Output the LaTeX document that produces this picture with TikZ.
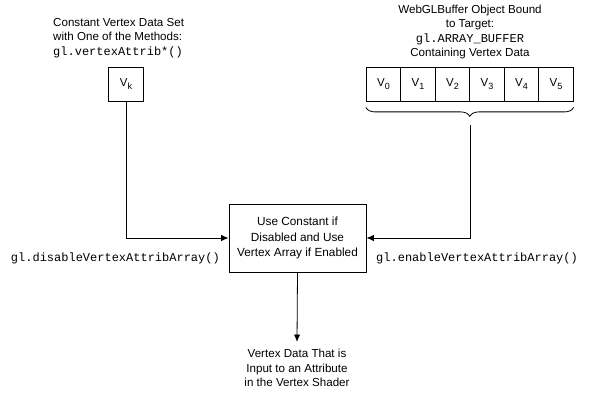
\documentclass[tikz,border=0pt]{standalone}
\usepackage{fontspec}
\setmainfont{Liberation Sans}
\setmonofont{Liberation Mono}
\usepackage{tikz}
\usetikzlibrary{arrows.meta,positioning,calc,decorations.pathreplacing}
\newcommand{\vsub}[1]{V\kern0.3pt\raisebox{-2.6pt}{\fontsize{9}{9}\selectfont #1}}
\tikzset{
  flow/.style={-{Latex[length=2.6mm,width=2.2mm]},line width=0.8pt},
  cell/.style={draw,line width=0.8pt,minimum width=34.5pt,minimum height=34pt,inner sep=0pt,font=\fontsize{11.5}{14}\selectfont},
  box/.style={draw,line width=0.8pt,minimum width=137pt,minimum height=68pt,align=center,font=\fontsize{11.8}{15.5}\selectfont},
  labeltext/.style={inner sep=0pt,align=center,font=\fontsize{11.6}{14.6}\selectfont},
  codetext/.style={inner sep=0pt,font=\fontsize{12}{14}\ttfamily}
}
\begin{document}
\begin{tikzpicture}[x=1pt,y=-1pt]
\useasboundingbox (0,0) rectangle (594,401);
% constant vertex
\node[labeltext,align=left,anchor=west] (constlbl) at (53,38)
  {Constant Vertex Data Set\\with One of the Methods:\\{\fontsize{12}{14}\ttfamily gl.vertexAttrib*()}};
\node[cell] (vk) at (126,84) {\vsub{k}};
% buffer
\node[labeltext] (buflbl) at (470,32)
  {WebGLBuffer Object Bound\\to Target:\\{\fontsize{12}{14}\ttfamily gl.ARRAY\_BUFFER}\\Containing Vertex Data};
\foreach \i in {0,...,5}{
  \node[cell] (v\i) at (383.5+34.5*\i,84) {\vsub{\i}};
}
\draw[line width=0.8pt,decorate,decoration={brace,mirror,amplitude=9pt}]
  ($(v0.south west)+(0,6)$) -- ($(v5.south east)+(0,6)$);
\coordinate (tip) at (470,125);
% selector
\node[box] (use) at (297.5,238) {Use Constant if\\Disabled and Use\\Vertex Array if Enabled};
\node[labeltext] (out) at (297,368) {Vertex Data That is\\Input to an Attribute\\in the Vertex Shader};
\node[codetext,anchor=east] (dis) at (220,258) {gl.disableVertexAttribArray()};
\node[codetext,anchor=west] (ena) at (376,258) {gl.enableVertexAttribArray()};
\draw[flow] (vk.south) |- (use.west);
\draw[flow] (tip) |- (use.east);
\draw[flow] (use.south) -- ($(out.north)+(0,-7)$);
\end{tikzpicture}
\end{document}
